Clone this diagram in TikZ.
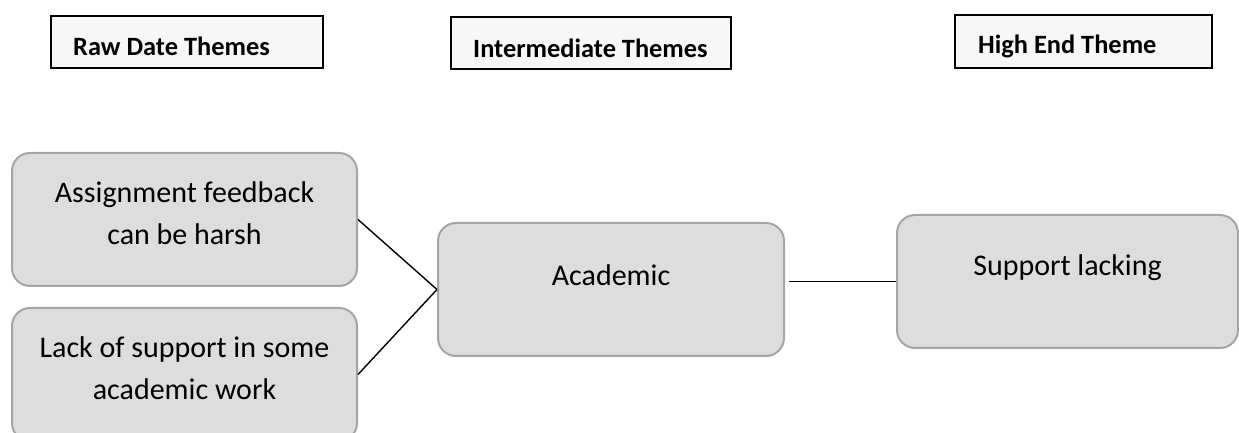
\documentclass[tikz,border=0pt]{standalone}
\usepackage{fontspec}
\setmainfont{Carlito}
\usetikzlibrary{positioning}
\definecolor{boxfill}{RGB}{221,221,221}
\definecolor{boxline}{RGB}{165,165,165}
\definecolor{headfill}{RGB}{247,247,247}
\tikzset{
  header/.style={draw=black, line width=1.5pt, fill=headfill, inner sep=0pt},
  headtext/.style={font=\fontsize{26.4}{30}\selectfont\bfseries, inner sep=0pt, anchor=base west},
  theme/.style={draw=boxline, line width=2pt, fill=boxfill, rounded corners=18pt,
    minimum width=345pt, minimum height=133pt, inner sep=0pt},
  themetext/.style={font=\fontsize{30}{42}\selectfont, align=center, inner sep=0pt},
  link/.style={draw=black, line width=1.4pt}
}
\begin{document}
\begin{tikzpicture}[x=1pt,y=1pt]
  \useasboundingbox (0,0) rectangle (1239,433);
  % column headers
  \node[header, minimum width=272pt, minimum height=52pt] (rawhead) at (187,391) {};
  \node[header, minimum width=280pt, minimum height=52pt] (midhead) at (591,390) {};
  \node[header, minimum width=257pt, minimum height=53pt] (highhead) at (1083.5,391.5) {};
  \node[headtext] (rawtext) at (73,377) {Raw Date Themes};
  \node[headtext] (midtext) at (473,375) {Intermediate Themes};
  \node[headtext] (hightext) at (978,379) {High End Theme};
  % theme boxes
  \node[theme] (feedback) at (184.5,213.5) {};
  \node[theme] (support) at (184.5,58.5) {};
  \node[theme, minimum width=346pt] (academic) at (611,143.5) {};
  \node[theme, minimum width=341pt] (lacking) at (1067.5,151.5) {};
  \node[themetext] (feedbacktext) at ([yshift=6pt]feedback.center) {Assignment feedback\\can be harsh};
  \node[themetext] (supporttext) at ([yshift=6pt]support.center) {Lack of support in some\\academic work};
  \node[themetext] (academictext) at ([yshift=14pt]academic.center) {Academic};
  \node[themetext] (lackingtext) at ([yshift=14pt]lacking.center) {Support lacking};
  % links
  \draw[link] (feedback.east) -- (academic.west);
  \draw[link] (support.east) -- (academic.west);
  \draw[link] ([xshift=4pt]academic.east |- lacking.west) -- (lacking.west);
\end{tikzpicture}
\end{document}
